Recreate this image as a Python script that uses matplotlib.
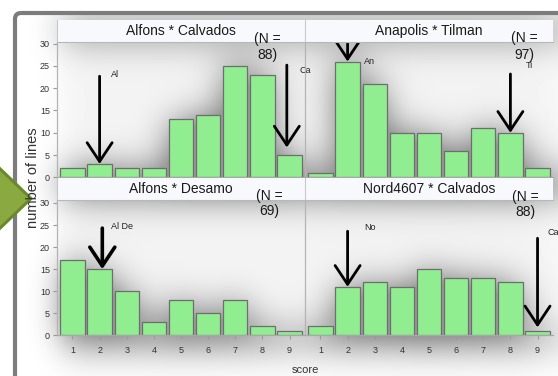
import numpy as np
import matplotlib
matplotlib.use('Agg')
import matplotlib.pyplot as plt
from matplotlib.patches import FancyBboxPatch, Polygon

# ---------------- data ----------------
scores = [1, 2, 3, 4, 5, 6, 7, 8, 9]
score_labels = ["1", "2", "3", "4", "5", "6", "7", "8", "9"]
panel_titles = ["Alfons * Calvados", "Anapolis * Tilman",
                "Alfons * Desamo", "Nord4607 * Calvados"]
alfons_calvados = [2, 3, 2, 2, 13, 14, 25, 23, 5]
anapolis_tilman = [1, 26, 21, 10, 10, 6, 11, 10, 2]
alfons_desamo = [17, 15, 10, 3, 8, 5, 8, 2, 1]
nord_calvados = [2, 11, 12, 11, 15, 13, 13, 12, 1]
panel_n = ["88", "97", "69", "88"]
y_ticks = [0, 5, 10, 15, 20, 25, 30]

# arrow annotations: panel, score, tip value, tail value, label, label score, label value
arrow_panel = [0, 0, 1, 1, 2, 3, 3]
arrow_score = [2, 8.9, 2, 8, 2.1, 2, 9]
arrow_tip = [3, 6.7, 26, 10, 15, 11, 1.8]
arrow_tail = [22.7, 25.2, 30.0, 23.2, 24.3, 23.6, 22.0]
arrow_label = ["Al", "Ca", "An", "Ti", "Al De", "No", "Ca"]
label_score = [2.42, 9.38, 2.6, 8.55, 2.42, 2.6, 9.36]
label_value = [23.0, 23.9, 25.9, 25.0, 24.6, 24.4, 23.4]

panel_values = [alfons_calvados, anapolis_tilman, alfons_desamo, nord_calvados]

# ---------------- layout ----------------
W, H = 558, 376
fig = plt.figure(figsize=(W / 100, H / 100), dpi=100)
fig.patch.set_facecolor('white')

REG = ['Liberation Sans', 'DejaVu Sans']


def fr(x0, y0, x1, y1):
    return [x0 / W, 1 - y1 / H, (x1 - x0) / W, (y1 - y0) / H]


cols = [(57, 305), (305, 553)]
rows = [(42, 177.3, 30.38), (200, 335.3, 30.68)]
strips = [(20, 42), (178, 200)]

bg = fig.add_axes([0, 0, 1, 1], zorder=-10)
bg.set_xlim(0, W)
bg.set_ylim(H, 0)
bg.axis('off')

axes = []
strip_axes = []
for r in range(2):
    for c in range(2):
        x0, x1 = cols[c]
        y0, y1, ytop = rows[r]
        ax = fig.add_axes(fr(x0, y0, x1, y1), zorder=2)
        ax.set_facecolor('none')
        ax.set_xlim(0.43, 9.57)
        ax.set_ylim(0, ytop)
        for s in ['top', 'right']:
            ax.spines[s].set_visible(False)
        ax.spines['left'].set_color('#b4b4b4')
        ax.spines['bottom'].set_color('#a8a8a8')
        ax.spines['left'].set_linewidth(0.9)
        ax.spines['bottom'].set_linewidth(0.9)
        ax.set_yticks(y_ticks)
        ax.set_xticks(scores)
        ax.tick_params(axis='both', colors='#9a9a9a', length=3, width=0.8,
                       labelcolor='#333333', labelsize=6.5)
        ax.tick_params(axis='x', pad=5)
        ax.tick_params(axis='y', pad=2)
        if c == 0:
            ax.set_yticklabels([str(t) for t in y_ticks], family=REG)
        else:
            ax.tick_params(axis='y', left=False, labelleft=False)
        if r == 1:
            ax.set_xticklabels(score_labels, family=REG)
        else:
            ax.tick_params(axis='x', bottom=False, labelbottom=False)
        axes.append(ax)

        sx = fig.add_axes(fr(x0, strips[r][0], x1, strips[r][1]), zorder=3)
        sx.set_facecolor('#f7f9fc')
        sx.set_xticks([])
        sx.set_yticks([])
        for s in ['top', 'right']:
            sx.spines[s].set_visible(False)
        sx.spines['bottom'].set_color('#b8b8b8')
        sx.spines['left'].set_color('#c8c8c8')
        sx.text(0.5, 0.48, panel_titles[r * 2 + c], ha='center', va='center',
                fontsize=10, family=REG, color='#1a1a1a', transform=sx.transAxes)
        strip_axes.append(sx)

bars_all = []
for i, ax in enumerate(axes):
    b = ax.bar(scores, panel_values[i], width=0.9, color='#90ee90',
               edgecolor='#6e6e6e', linewidth=0.9, zorder=3)
    bars_all.append(b)

# arrows
for k in range(len(arrow_panel)):
    ax = axes[arrow_panel[k]]
    lw = 2.6 if arrow_label[k] == "Al De" else 2.0
    ax.annotate('', xy=(arrow_score[k], arrow_tip[k]),
                xytext=(arrow_score[k], arrow_tail[k]),
                arrowprops=dict(arrowstyle='->,head_length=13.5,head_width=9',
                                mutation_scale=1, lw=lw, color='black',
                                shrinkA=0, shrinkB=0),
                annotation_clip=False, zorder=6)
    ax.text(label_score[k], label_value[k], arrow_label[k], fontsize=6.5,
            family=REG, color='#222222', ha='left', va='center',
            clip_on=False, zorder=6)

# N texts
n_pos = [(267, 39, 55), (524, 38, 55), (269, 196, 211), (525, 197, 212)]
for i, (x, ya, yb) in enumerate(n_pos):
    fig.text(x / W, 1 - ya / H, "(N =", ha='center', va='center', fontsize=10,
             family=REG, color='#1a1a1a', zorder=20)
    fig.text(x / W, 1 - yb / H, panel_n[i] + ")", ha='center', va='center',
             fontsize=10, family=REG, color='#1a1a1a', zorder=20)

fig.text(33 / W, 1 - 178 / H, "number of lines", rotation=90, ha='center',
         va='center', fontsize=10.5, family=REG, color='#333333')
fig.text(305 / W, 1 - 370 / H, "score", ha='center', va='center',
         fontsize=8, family=REG, color='#333333')

# ---------------- glow background from bar shapes ----------------
fig.canvas.draw()
mask = np.zeros((H, W))
for ax in axes:
    e = ax.get_window_extent()
    xa, xb = int(e.x0), int(min(e.x1, W))
    ya, yb = int(H - e.y1), int(H - e.y0)
    mask[ya:yb, xa:xb] = 0.15
for b in bars_all:
    for p in b.patches:
        e = p.get_window_extent()
        xa, xb = int(max(e.x0, 0)), int(min(e.x1, W))
        ya, yb = int(max(H - e.y1, 0)), int(min(H - e.y0 + 14, H))
        mask[ya:yb, xa:xb] = 1.0
for sx in strip_axes:
    e = sx.get_window_extent()
    xa, xb = int(e.x0), int(min(e.x1, W))
    ya, yb = int(H - e.y1), int(H - e.y0)
    mask[ya:yb, xa:xb] = np.maximum(mask[ya:yb, xa:xb], 0.9)


def gk(n, sigma):
    idx = np.arange(n)
    K = np.exp(-0.5 * ((idx[:, None] - idx[None, :]) / sigma) ** 2)
    return K / K.sum(axis=1, keepdims=True)


blur = gk(H, 18) @ mask @ gk(W, 18).T
img = 1 - 0.40 * np.clip(blur / 0.7, 0, 1) ** 1.4
yy = np.arange(H)[:, None]
xx = np.arange(W)[None, :]
inside = (xx > 16) & (yy > 14)
img = np.where(inside, img, 1.0)
bg.imshow(img, cmap='gray', vmin=0, vmax=1, extent=(0, W, H, 0),
          aspect='auto', interpolation='bilinear', zorder=0)

# frame
frame = FancyBboxPatch((15, 13), 600, 420, boxstyle='round,pad=0,rounding_size=6',
                       facecolor='none', edgecolor='#7c7c7c', linewidth=3.0, zorder=2)
bg.add_patch(frame)

# chevron
bg.add_patch(Polygon([(-5, 164), (31, 198.5), (-5, 233)], closed=True,
                     facecolor='#8aa941', edgecolor='#6a8a2a', linewidth=2.2, zorder=3))
bg.set_xlim(0, W)
bg.set_ylim(H, 0)

fig.savefig('out.png', dpi=100)
